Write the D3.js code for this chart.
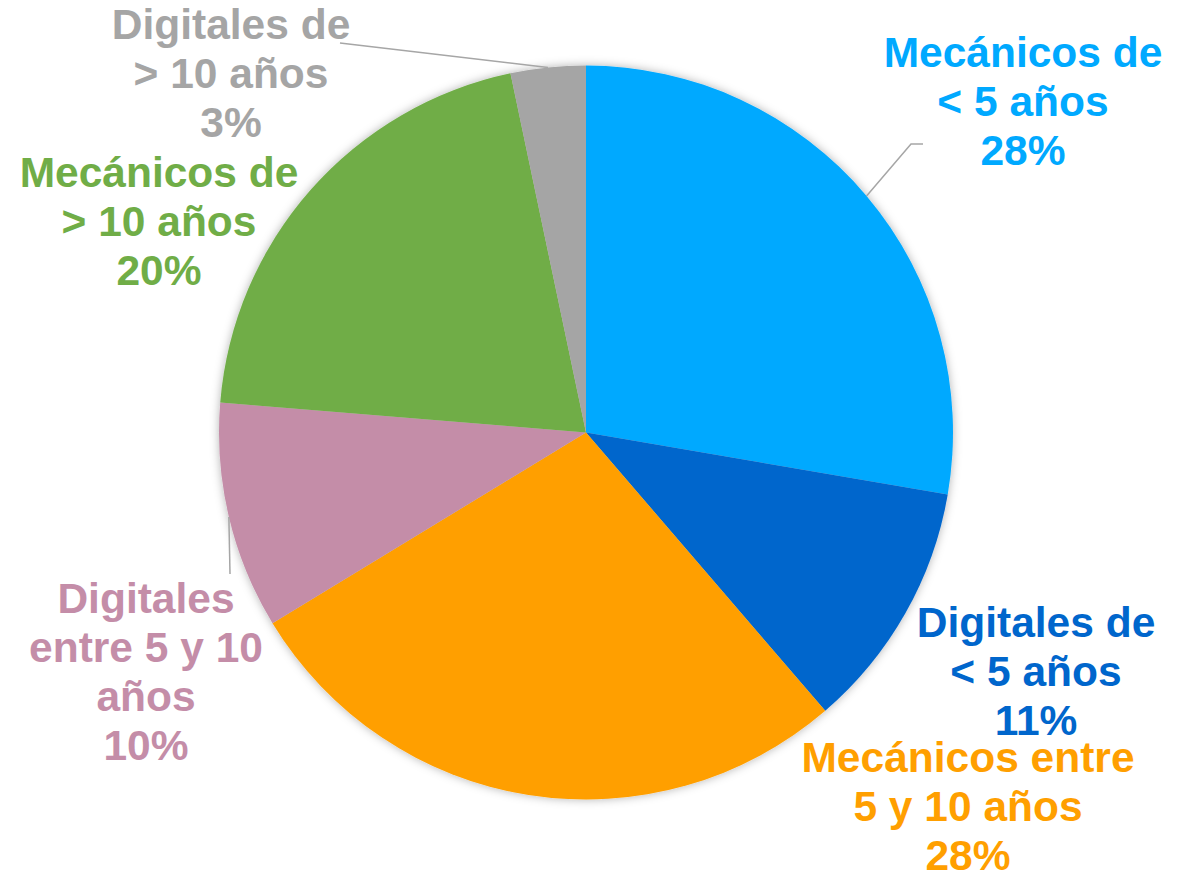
<html>
<script src='https://d3js.org/d3.v7.min.js'></script>
<style>
body { margin: 0; background: white; }
text { font-family: 'Liberation Sans', Arial, sans-serif; font-weight: bold; }
</style>
<body>
<svg width=1191 height=872></svg>
<script>
// slice data, clockwise from 12 o'clock
const names = ["Mecánicos de < 5 años", "Digitales de < 5 años", "Mecánicos entre 5 y 10 años",
               "Digitales entre 5 y 10 años", "Mecánicos de > 10 años", "Digitales de > 10 años"];
const values = [27.7, 11.0, 27.6, 10.0, 20.4, 3.3];
const labelLines = [
  ["Mecánicos de", "< 5 años"],
  ["Digitales de", "< 5 años"],
  ["Mecánicos entre", "5 y 10 años"],
  ["Digitales", "entre 5 y 10", "años"],
  ["Mecánicos de", "> 10 años"],
  ["Digitales de", "> 10 años"]
];
const colors = ["#00A9FF", "#0066CC", "#FF9F00", "#C48DA8", "#70AD47", "#A5A5A5"];

// label layout: x center, first baseline, optional leader elbow
const labelPos = [
  {x: 1023, y: 67, elbow: [911, 144], end: [923, 144]},
  {x: 1036, y: 637},
  {x: 968, y: 772},
  {x: 146, y: 613, elbow: null, end: [230, 574]},
  {x: 159, y: 187},
  {x: 231, y: 39, elbow: null, end: [340, 43]}
];

const cx = 586, cy = 432.5, r = 367;
const svg = d3.select("svg");

const defs = svg.append("defs");
const f = defs.append("filter").attr("id", "shadow")
  .attr("x", "-10%").attr("y", "-10%").attr("width", "120%").attr("height", "120%");
f.append("feDropShadow").attr("dx", 0).attr("dy", 0).attr("stdDeviation", 5)
  .attr("flood-color", "#000").attr("flood-opacity", 0.3);

const pie = d3.pie().sort(null).value(d => d);
const arcs = pie(values);
const arc = d3.arc().innerRadius(0).outerRadius(r);
const edge = d3.arc().innerRadius(r).outerRadius(r);

const g = svg.append("g").attr("transform", `translate(${cx},${cy})`);
g.append("g").attr("filter", "url(#shadow)")
  .selectAll("path")
  .data(arcs)
  .enter()
  .append("path")
  .attr("d", arc)
  .attr("fill", (d, i) => colors[i]);

// leader lines
arcs.forEach((d, i) => {
  const p = labelPos[i];
  if (!p.end) return;
  const c = edge.centroid(d);
  const pts = [[cx + c[0], cy + c[1]]];
  if (p.elbow) pts.push(p.elbow);
  pts.push(p.end);
  svg.append("path")
    .attr("d", d3.line()(pts))
    .attr("fill", "none")
    .attr("stroke", "#A6A6A6")
    .attr("stroke-width", 1.5);
});

// labels
const fmt = d3.format(".0f");
arcs.forEach((d, i) => {
  const p = labelPos[i];
  const lines = labelLines[i].concat([fmt(values[i]) + "%"]);
  const t = svg.append("text")
    .attr("text-anchor", "middle")
    .attr("font-size", "42.5px")
    .attr("fill", colors[i]);
  lines.forEach((s, k) => {
    t.append("tspan").attr("x", p.x).attr("y", p.y + k * 49).text(s);
  });
});
</script>
</body>
</html>
